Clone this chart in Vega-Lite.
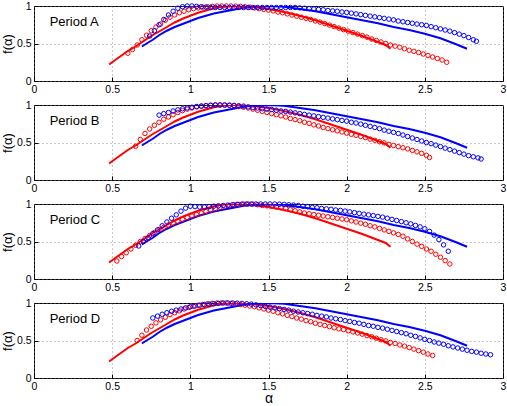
{
"$schema":"https://vega.github.io/schema/vega-lite/v6.json",
"background":"white",
"padding":{"left":0,"top":0,"right":0,"bottom":0},
"spacing":24,
"bounds":"flush",
"config":{
"font":"Liberation Sans",
"view":{"stroke":"#000000","strokeWidth":1},
"axis":{"grid":true,"gridDash":[1,3],"gridColor":"#777777","gridWidth":0.8,"gridOpacity":1,"domain":false,"ticks":true,"tickSize":-4,"tickColor":"#000000","tickWidth":1,"format":"~g","labelOverlap":false,"labelFont":"Liberation Sans","labelFontSize":10.5,"labelColor":"#000000","labelFlush":false,"labelPadding":7,"titleFont":"Liberation Sans","titleFontSize":13,"titleFontWeight":"normal","titleColor":"#000000","titlePadding":2}
},
"datasets":{
"lines":[
{"s":"r","x":0.48,"y":0.22},{"s":"r","x":0.52,"y":0.28},{"s":"r","x":0.56,"y":0.34},{"s":"r","x":0.60,"y":0.40},{"s":"r","x":0.65,"y":0.46},{"s":"r","x":0.70,"y":0.53},{"s":"r","x":0.75,"y":0.60},{"s":"r","x":0.80,"y":0.66},{"s":"r","x":0.85,"y":0.72},{"s":"r","x":0.90,"y":0.78},{"s":"r","x":0.95,"y":0.83},{"s":"r","x":1.00,"y":0.87},{"s":"r","x":1.05,"y":0.91},{"s":"r","x":1.10,"y":0.94},{"s":"r","x":1.15,"y":0.97},{"s":"r","x":1.20,"y":0.99},{"s":"r","x":1.25,"y":1.0},{"s":"r","x":1.30,"y":1.0},{"s":"r","x":1.40,"y":0.99},{"s":"r","x":1.50,"y":0.96},{"s":"r","x":1.60,"y":0.92},{"s":"r","x":1.70,"y":0.87},{"s":"r","x":1.80,"y":0.81},{"s":"r","x":1.90,"y":0.74},{"s":"r","x":2.00,"y":0.67},{"s":"r","x":2.10,"y":0.60},{"s":"r","x":2.20,"y":0.52},{"s":"r","x":2.25,"y":0.48},{"s":"r","x":2.28,"y":0.43},
{"s":"b","x":0.69,"y":0.46},{"s":"b","x":0.72,"y":0.50},{"s":"b","x":0.76,"y":0.55},{"s":"b","x":0.80,"y":0.61},{"s":"b","x":0.85,"y":0.67},{"s":"b","x":0.90,"y":0.72},{"s":"b","x":0.95,"y":0.76},{"s":"b","x":1.00,"y":0.80},{"s":"b","x":1.05,"y":0.84},{"s":"b","x":1.10,"y":0.87},{"s":"b","x":1.15,"y":0.90},{"s":"b","x":1.20,"y":0.92},{"s":"b","x":1.25,"y":0.94},{"s":"b","x":1.30,"y":0.96},{"s":"b","x":1.35,"y":0.98},{"s":"b","x":1.40,"y":0.99},{"s":"b","x":1.50,"y":1.0},{"s":"b","x":1.60,"y":0.99},{"s":"b","x":1.70,"y":0.96},{"s":"b","x":1.80,"y":0.93},{"s":"b","x":1.90,"y":0.89},{"s":"b","x":2.00,"y":0.85},{"s":"b","x":2.10,"y":0.81},{"s":"b","x":2.20,"y":0.77},{"s":"b","x":2.30,"y":0.72},{"s":"b","x":2.40,"y":0.68},{"s":"b","x":2.50,"y":0.63},{"s":"b","x":2.60,"y":0.57},{"s":"b","x":2.70,"y":0.49},{"s":"b","x":2.77,"y":0.43}
],
"circles":[
{"p":"A","s":"r","x":0.60,"y":0.37},{"p":"A","s":"r","x":0.63,"y":0.42},{"p":"A","s":"r","x":0.66,"y":0.48},{"p":"A","s":"r","x":0.69,"y":0.55},{"p":"A","s":"r","x":0.72,"y":0.61},{"p":"A","s":"r","x":0.75,"y":0.67},{"p":"A","s":"r","x":0.78,"y":0.72},{"p":"A","s":"r","x":0.81,"y":0.76},{"p":"A","s":"r","x":0.84,"y":0.81},{"p":"A","s":"r","x":0.87,"y":0.85},{"p":"A","s":"r","x":0.90,"y":0.88},{"p":"A","s":"r","x":0.93,"y":0.91},{"p":"A","s":"r","x":0.96,"y":0.93},{"p":"A","s":"r","x":0.99,"y":0.95},{"p":"A","s":"r","x":1.02,"y":0.965},{"p":"A","s":"r","x":1.05,"y":0.975},{"p":"A","s":"r","x":1.08,"y":0.985},{"p":"A","s":"r","x":1.11,"y":0.99},{"p":"A","s":"r","x":1.14,"y":0.995},{"p":"A","s":"r","x":1.17,"y":1.0},{"p":"A","s":"r","x":1.20,"y":1.0},{"p":"A","s":"r","x":1.23,"y":1.0},{"p":"A","s":"r","x":1.26,"y":1.0},{"p":"A","s":"r","x":1.29,"y":0.998},{"p":"A","s":"r","x":1.32,"y":0.995},{"p":"A","s":"r","x":1.35,"y":0.99},{"p":"A","s":"r","x":1.38,"y":0.985},{"p":"A","s":"r","x":1.41,"y":0.975},{"p":"A","s":"r","x":1.44,"y":0.965},{"p":"A","s":"r","x":1.47,"y":0.955},{"p":"A","s":"r","x":1.50,"y":0.945},{"p":"A","s":"r","x":1.53,"y":0.935},{"p":"A","s":"r","x":1.56,"y":0.92},{"p":"A","s":"r","x":1.59,"y":0.91},{"p":"A","s":"r","x":1.62,"y":0.895},{"p":"A","s":"r","x":1.65,"y":0.88},{"p":"A","s":"r","x":1.68,"y":0.865},{"p":"A","s":"r","x":1.71,"y":0.85},{"p":"A","s":"r","x":1.74,"y":0.835},{"p":"A","s":"r","x":1.77,"y":0.82},{"p":"A","s":"r","x":1.80,"y":0.80},{"p":"A","s":"r","x":1.83,"y":0.785},{"p":"A","s":"r","x":1.86,"y":0.765},{"p":"A","s":"r","x":1.89,"y":0.745},{"p":"A","s":"r","x":1.92,"y":0.725},{"p":"A","s":"r","x":1.95,"y":0.705},{"p":"A","s":"r","x":1.98,"y":0.685},{"p":"A","s":"r","x":2.01,"y":0.665},{"p":"A","s":"r","x":2.04,"y":0.645},{"p":"A","s":"r","x":2.07,"y":0.625},{"p":"A","s":"r","x":2.10,"y":0.605},{"p":"A","s":"r","x":2.13,"y":0.585},{"p":"A","s":"r","x":2.16,"y":0.56},{"p":"A","s":"r","x":2.19,"y":0.54},{"p":"A","s":"r","x":2.22,"y":0.52},{"p":"A","s":"r","x":2.25,"y":0.50},{"p":"A","s":"r","x":2.28,"y":0.48},{"p":"A","s":"r","x":2.31,"y":0.465},{"p":"A","s":"r","x":2.34,"y":0.45},{"p":"A","s":"r","x":2.37,"y":0.43},{"p":"A","s":"r","x":2.40,"y":0.41},{"p":"A","s":"r","x":2.43,"y":0.395},{"p":"A","s":"r","x":2.46,"y":0.38},{"p":"A","s":"r","x":2.49,"y":0.36},{"p":"A","s":"r","x":2.52,"y":0.34},{"p":"A","s":"r","x":2.55,"y":0.32},{"p":"A","s":"r","x":2.58,"y":0.30},{"p":"A","s":"r","x":2.61,"y":0.28},{"p":"A","s":"r","x":2.64,"y":0.25},
{"p":"A","s":"b","x":0.74,"y":0.60},{"p":"A","s":"b","x":0.77,"y":0.67},{"p":"A","s":"b","x":0.80,"y":0.75},{"p":"A","s":"b","x":0.83,"y":0.82},{"p":"A","s":"b","x":0.86,"y":0.88},{"p":"A","s":"b","x":0.89,"y":0.93},{"p":"A","s":"b","x":0.92,"y":0.97},{"p":"A","s":"b","x":0.95,"y":0.99},{"p":"A","s":"b","x":0.98,"y":1.0},{"p":"A","s":"b","x":1.01,"y":1.0},{"p":"A","s":"b","x":1.04,"y":0.995},{"p":"A","s":"b","x":1.07,"y":0.99},{"p":"A","s":"b","x":1.10,"y":0.985},{"p":"A","s":"b","x":1.13,"y":0.98},{"p":"A","s":"b","x":1.16,"y":0.98},{"p":"A","s":"b","x":1.19,"y":0.98},{"p":"A","s":"b","x":1.22,"y":0.98},{"p":"A","s":"b","x":1.25,"y":0.98},{"p":"A","s":"b","x":1.28,"y":0.98},{"p":"A","s":"b","x":1.31,"y":0.98},{"p":"A","s":"b","x":1.34,"y":0.98},{"p":"A","s":"b","x":1.37,"y":0.98},{"p":"A","s":"b","x":1.40,"y":0.98},{"p":"A","s":"b","x":1.43,"y":0.98},{"p":"A","s":"b","x":1.46,"y":0.98},{"p":"A","s":"b","x":1.49,"y":0.98},{"p":"A","s":"b","x":1.52,"y":0.98},{"p":"A","s":"b","x":1.55,"y":0.98},{"p":"A","s":"b","x":1.58,"y":0.98},{"p":"A","s":"b","x":1.61,"y":0.98},{"p":"A","s":"b","x":1.64,"y":0.98},{"p":"A","s":"b","x":1.67,"y":0.98},{"p":"A","s":"b","x":1.70,"y":0.975},{"p":"A","s":"b","x":1.73,"y":0.97},{"p":"A","s":"b","x":1.76,"y":0.965},{"p":"A","s":"b","x":1.79,"y":0.96},{"p":"A","s":"b","x":1.82,"y":0.955},{"p":"A","s":"b","x":1.85,"y":0.95},{"p":"A","s":"b","x":1.88,"y":0.94},{"p":"A","s":"b","x":1.91,"y":0.935},{"p":"A","s":"b","x":1.94,"y":0.93},{"p":"A","s":"b","x":1.97,"y":0.92},{"p":"A","s":"b","x":2.00,"y":0.915},{"p":"A","s":"b","x":2.03,"y":0.905},{"p":"A","s":"b","x":2.06,"y":0.895},{"p":"A","s":"b","x":2.09,"y":0.885},{"p":"A","s":"b","x":2.12,"y":0.875},{"p":"A","s":"b","x":2.15,"y":0.865},{"p":"A","s":"b","x":2.18,"y":0.855},{"p":"A","s":"b","x":2.21,"y":0.845},{"p":"A","s":"b","x":2.24,"y":0.835},{"p":"A","s":"b","x":2.27,"y":0.825},{"p":"A","s":"b","x":2.30,"y":0.815},{"p":"A","s":"b","x":2.33,"y":0.80},{"p":"A","s":"b","x":2.36,"y":0.79},{"p":"A","s":"b","x":2.39,"y":0.78},{"p":"A","s":"b","x":2.42,"y":0.77},{"p":"A","s":"b","x":2.45,"y":0.76},{"p":"A","s":"b","x":2.48,"y":0.75},{"p":"A","s":"b","x":2.51,"y":0.74},{"p":"A","s":"b","x":2.54,"y":0.725},{"p":"A","s":"b","x":2.57,"y":0.71},{"p":"A","s":"b","x":2.60,"y":0.695},{"p":"A","s":"b","x":2.63,"y":0.68},{"p":"A","s":"b","x":2.66,"y":0.665},{"p":"A","s":"b","x":2.69,"y":0.645},{"p":"A","s":"b","x":2.72,"y":0.625},{"p":"A","s":"b","x":2.75,"y":0.605},{"p":"A","s":"b","x":2.78,"y":0.58},{"p":"A","s":"b","x":2.81,"y":0.55},{"p":"A","s":"b","x":2.83,"y":0.53},
{"p":"B","s":"r","x":0.65,"y":0.45},{"p":"B","s":"r","x":0.68,"y":0.54},{"p":"B","s":"r","x":0.71,"y":0.62},{"p":"B","s":"r","x":0.74,"y":0.68},{"p":"B","s":"r","x":0.77,"y":0.73},{"p":"B","s":"r","x":0.80,"y":0.77},{"p":"B","s":"r","x":0.83,"y":0.81},{"p":"B","s":"r","x":0.86,"y":0.84},{"p":"B","s":"r","x":0.89,"y":0.87},{"p":"B","s":"r","x":0.92,"y":0.90},{"p":"B","s":"r","x":0.95,"y":0.925},{"p":"B","s":"r","x":0.98,"y":0.945},{"p":"B","s":"r","x":1.01,"y":0.96},{"p":"B","s":"r","x":1.04,"y":0.975},{"p":"B","s":"r","x":1.07,"y":0.985},{"p":"B","s":"r","x":1.10,"y":0.993},{"p":"B","s":"r","x":1.13,"y":0.998},{"p":"B","s":"r","x":1.16,"y":1.0},{"p":"B","s":"r","x":1.19,"y":1.0},{"p":"B","s":"r","x":1.22,"y":0.998},{"p":"B","s":"r","x":1.25,"y":0.995},{"p":"B","s":"r","x":1.28,"y":0.99},{"p":"B","s":"r","x":1.31,"y":0.98},{"p":"B","s":"r","x":1.34,"y":0.97},{"p":"B","s":"r","x":1.37,"y":0.96},{"p":"B","s":"r","x":1.40,"y":0.945},{"p":"B","s":"r","x":1.43,"y":0.93},{"p":"B","s":"r","x":1.46,"y":0.915},{"p":"B","s":"r","x":1.49,"y":0.90},{"p":"B","s":"r","x":1.52,"y":0.885},{"p":"B","s":"r","x":1.55,"y":0.87},{"p":"B","s":"r","x":1.58,"y":0.855},{"p":"B","s":"r","x":1.61,"y":0.84},{"p":"B","s":"r","x":1.64,"y":0.82},{"p":"B","s":"r","x":1.67,"y":0.805},{"p":"B","s":"r","x":1.70,"y":0.79},{"p":"B","s":"r","x":1.73,"y":0.77},{"p":"B","s":"r","x":1.76,"y":0.755},{"p":"B","s":"r","x":1.79,"y":0.735},{"p":"B","s":"r","x":1.82,"y":0.72},{"p":"B","s":"r","x":1.85,"y":0.70},{"p":"B","s":"r","x":1.88,"y":0.685},{"p":"B","s":"r","x":1.91,"y":0.67},{"p":"B","s":"r","x":1.94,"y":0.655},{"p":"B","s":"r","x":1.97,"y":0.64},{"p":"B","s":"r","x":2.00,"y":0.625},{"p":"B","s":"r","x":2.03,"y":0.61},{"p":"B","s":"r","x":2.06,"y":0.595},{"p":"B","s":"r","x":2.09,"y":0.58},{"p":"B","s":"r","x":2.12,"y":0.565},{"p":"B","s":"r","x":2.15,"y":0.545},{"p":"B","s":"r","x":2.18,"y":0.53},{"p":"B","s":"r","x":2.21,"y":0.51},{"p":"B","s":"r","x":2.24,"y":0.495},{"p":"B","s":"r","x":2.27,"y":0.475},{"p":"B","s":"r","x":2.30,"y":0.46},{"p":"B","s":"r","x":2.33,"y":0.445},{"p":"B","s":"r","x":2.36,"y":0.43},{"p":"B","s":"r","x":2.39,"y":0.415},{"p":"B","s":"r","x":2.42,"y":0.395},{"p":"B","s":"r","x":2.45,"y":0.375},{"p":"B","s":"r","x":2.48,"y":0.355},{"p":"B","s":"r","x":2.51,"y":0.33},{"p":"B","s":"r","x":2.53,"y":0.30},
{"p":"B","s":"b","x":0.80,"y":0.865},{"p":"B","s":"b","x":0.83,"y":0.885},{"p":"B","s":"b","x":0.86,"y":0.90},{"p":"B","s":"b","x":0.89,"y":0.92},{"p":"B","s":"b","x":0.92,"y":0.935},{"p":"B","s":"b","x":0.95,"y":0.95},{"p":"B","s":"b","x":0.98,"y":0.96},{"p":"B","s":"b","x":1.01,"y":0.97},{"p":"B","s":"b","x":1.04,"y":0.98},{"p":"B","s":"b","x":1.07,"y":0.985},{"p":"B","s":"b","x":1.10,"y":0.99},{"p":"B","s":"b","x":1.13,"y":0.995},{"p":"B","s":"b","x":1.16,"y":1.0},{"p":"B","s":"b","x":1.19,"y":1.0},{"p":"B","s":"b","x":1.22,"y":1.0},{"p":"B","s":"b","x":1.25,"y":0.998},{"p":"B","s":"b","x":1.28,"y":0.995},{"p":"B","s":"b","x":1.31,"y":0.99},{"p":"B","s":"b","x":1.34,"y":0.985},{"p":"B","s":"b","x":1.37,"y":0.975},{"p":"B","s":"b","x":1.40,"y":0.965},{"p":"B","s":"b","x":1.43,"y":0.96},{"p":"B","s":"b","x":1.46,"y":0.95},{"p":"B","s":"b","x":1.49,"y":0.945},{"p":"B","s":"b","x":1.52,"y":0.94},{"p":"B","s":"b","x":1.55,"y":0.93},{"p":"B","s":"b","x":1.58,"y":0.92},{"p":"B","s":"b","x":1.61,"y":0.915},{"p":"B","s":"b","x":1.64,"y":0.905},{"p":"B","s":"b","x":1.67,"y":0.895},{"p":"B","s":"b","x":1.70,"y":0.885},{"p":"B","s":"b","x":1.73,"y":0.875},{"p":"B","s":"b","x":1.76,"y":0.865},{"p":"B","s":"b","x":1.79,"y":0.855},{"p":"B","s":"b","x":1.82,"y":0.845},{"p":"B","s":"b","x":1.85,"y":0.835},{"p":"B","s":"b","x":1.88,"y":0.825},{"p":"B","s":"b","x":1.91,"y":0.815},{"p":"B","s":"b","x":1.94,"y":0.805},{"p":"B","s":"b","x":1.97,"y":0.795},{"p":"B","s":"b","x":2.00,"y":0.785},{"p":"B","s":"b","x":2.03,"y":0.77},{"p":"B","s":"b","x":2.06,"y":0.76},{"p":"B","s":"b","x":2.09,"y":0.745},{"p":"B","s":"b","x":2.12,"y":0.73},{"p":"B","s":"b","x":2.15,"y":0.715},{"p":"B","s":"b","x":2.18,"y":0.70},{"p":"B","s":"b","x":2.21,"y":0.685},{"p":"B","s":"b","x":2.24,"y":0.665},{"p":"B","s":"b","x":2.27,"y":0.65},{"p":"B","s":"b","x":2.30,"y":0.635},{"p":"B","s":"b","x":2.33,"y":0.62},{"p":"B","s":"b","x":2.36,"y":0.60},{"p":"B","s":"b","x":2.39,"y":0.58},{"p":"B","s":"b","x":2.42,"y":0.56},{"p":"B","s":"b","x":2.45,"y":0.54},{"p":"B","s":"b","x":2.48,"y":0.52},{"p":"B","s":"b","x":2.51,"y":0.50},{"p":"B","s":"b","x":2.54,"y":0.485},{"p":"B","s":"b","x":2.57,"y":0.465},{"p":"B","s":"b","x":2.60,"y":0.445},{"p":"B","s":"b","x":2.63,"y":0.425},{"p":"B","s":"b","x":2.66,"y":0.405},{"p":"B","s":"b","x":2.69,"y":0.385},{"p":"B","s":"b","x":2.72,"y":0.365},{"p":"B","s":"b","x":2.75,"y":0.345},{"p":"B","s":"b","x":2.78,"y":0.325},{"p":"B","s":"b","x":2.81,"y":0.31},{"p":"B","s":"b","x":2.84,"y":0.295},{"p":"B","s":"b","x":2.86,"y":0.28},
{"p":"C","s":"r","x":0.53,"y":0.24},{"p":"C","s":"r","x":0.56,"y":0.30},{"p":"C","s":"r","x":0.59,"y":0.35},{"p":"C","s":"r","x":0.62,"y":0.40},{"p":"C","s":"r","x":0.65,"y":0.45},{"p":"C","s":"r","x":0.68,"y":0.50},{"p":"C","s":"r","x":0.71,"y":0.54},{"p":"C","s":"r","x":0.74,"y":0.58},{"p":"C","s":"r","x":0.77,"y":0.62},{"p":"C","s":"r","x":0.80,"y":0.66},{"p":"C","s":"r","x":0.83,"y":0.69},{"p":"C","s":"r","x":0.86,"y":0.72},{"p":"C","s":"r","x":0.89,"y":0.745},{"p":"C","s":"r","x":0.92,"y":0.77},{"p":"C","s":"r","x":0.95,"y":0.795},{"p":"C","s":"r","x":0.98,"y":0.82},{"p":"C","s":"r","x":1.01,"y":0.84},{"p":"C","s":"r","x":1.04,"y":0.86},{"p":"C","s":"r","x":1.07,"y":0.88},{"p":"C","s":"r","x":1.10,"y":0.90},{"p":"C","s":"r","x":1.13,"y":0.92},{"p":"C","s":"r","x":1.16,"y":0.94},{"p":"C","s":"r","x":1.19,"y":0.955},{"p":"C","s":"r","x":1.22,"y":0.97},{"p":"C","s":"r","x":1.25,"y":0.98},{"p":"C","s":"r","x":1.28,"y":0.99},{"p":"C","s":"r","x":1.31,"y":0.995},{"p":"C","s":"r","x":1.34,"y":1.0},{"p":"C","s":"r","x":1.37,"y":1.0},{"p":"C","s":"r","x":1.40,"y":0.998},{"p":"C","s":"r","x":1.43,"y":0.99},{"p":"C","s":"r","x":1.46,"y":0.98},{"p":"C","s":"r","x":1.49,"y":0.975},{"p":"C","s":"r","x":1.52,"y":0.97},{"p":"C","s":"r","x":1.55,"y":0.96},{"p":"C","s":"r","x":1.58,"y":0.95},{"p":"C","s":"r","x":1.61,"y":0.94},{"p":"C","s":"r","x":1.64,"y":0.925},{"p":"C","s":"r","x":1.67,"y":0.91},{"p":"C","s":"r","x":1.70,"y":0.895},{"p":"C","s":"r","x":1.73,"y":0.88},{"p":"C","s":"r","x":1.76,"y":0.87},{"p":"C","s":"r","x":1.79,"y":0.86},{"p":"C","s":"r","x":1.82,"y":0.85},{"p":"C","s":"r","x":1.85,"y":0.84},{"p":"C","s":"r","x":1.88,"y":0.83},{"p":"C","s":"r","x":1.91,"y":0.82},{"p":"C","s":"r","x":1.94,"y":0.81},{"p":"C","s":"r","x":1.97,"y":0.80},{"p":"C","s":"r","x":2.00,"y":0.79},{"p":"C","s":"r","x":2.03,"y":0.775},{"p":"C","s":"r","x":2.06,"y":0.76},{"p":"C","s":"r","x":2.09,"y":0.745},{"p":"C","s":"r","x":2.12,"y":0.73},{"p":"C","s":"r","x":2.15,"y":0.71},{"p":"C","s":"r","x":2.18,"y":0.695},{"p":"C","s":"r","x":2.21,"y":0.675},{"p":"C","s":"r","x":2.24,"y":0.655},{"p":"C","s":"r","x":2.27,"y":0.635},{"p":"C","s":"r","x":2.30,"y":0.615},{"p":"C","s":"r","x":2.33,"y":0.595},{"p":"C","s":"r","x":2.36,"y":0.57},{"p":"C","s":"r","x":2.39,"y":0.535},{"p":"C","s":"r","x":2.42,"y":0.50},{"p":"C","s":"r","x":2.45,"y":0.465},{"p":"C","s":"r","x":2.48,"y":0.435},{"p":"C","s":"r","x":2.51,"y":0.40},{"p":"C","s":"r","x":2.54,"y":0.37},{"p":"C","s":"r","x":2.57,"y":0.33},{"p":"C","s":"r","x":2.60,"y":0.29},{"p":"C","s":"r","x":2.63,"y":0.245},{"p":"C","s":"r","x":2.66,"y":0.20},
{"p":"C","s":"b","x":0.67,"y":0.44},{"p":"C","s":"b","x":0.70,"y":0.50},{"p":"C","s":"b","x":0.73,"y":0.55},{"p":"C","s":"b","x":0.76,"y":0.605},{"p":"C","s":"b","x":0.79,"y":0.655},{"p":"C","s":"b","x":0.82,"y":0.71},{"p":"C","s":"b","x":0.85,"y":0.76},{"p":"C","s":"b","x":0.88,"y":0.81},{"p":"C","s":"b","x":0.91,"y":0.855},{"p":"C","s":"b","x":0.94,"y":0.905},{"p":"C","s":"b","x":0.97,"y":0.945},{"p":"C","s":"b","x":1.00,"y":0.97},{"p":"C","s":"b","x":1.03,"y":0.965},{"p":"C","s":"b","x":1.06,"y":0.96},{"p":"C","s":"b","x":1.09,"y":0.96},{"p":"C","s":"b","x":1.12,"y":0.965},{"p":"C","s":"b","x":1.15,"y":0.97},{"p":"C","s":"b","x":1.18,"y":0.975},{"p":"C","s":"b","x":1.21,"y":0.98},{"p":"C","s":"b","x":1.24,"y":0.985},{"p":"C","s":"b","x":1.27,"y":0.99},{"p":"C","s":"b","x":1.30,"y":0.995},{"p":"C","s":"b","x":1.33,"y":0.998},{"p":"C","s":"b","x":1.36,"y":1.0},{"p":"C","s":"b","x":1.39,"y":1.0},{"p":"C","s":"b","x":1.42,"y":1.0},{"p":"C","s":"b","x":1.45,"y":1.0},{"p":"C","s":"b","x":1.48,"y":1.0},{"p":"C","s":"b","x":1.51,"y":1.0},{"p":"C","s":"b","x":1.54,"y":1.0},{"p":"C","s":"b","x":1.57,"y":0.998},{"p":"C","s":"b","x":1.60,"y":0.995},{"p":"C","s":"b","x":1.63,"y":0.99},{"p":"C","s":"b","x":1.66,"y":0.985},{"p":"C","s":"b","x":1.69,"y":0.98},{"p":"C","s":"b","x":1.72,"y":0.97},{"p":"C","s":"b","x":1.75,"y":0.965},{"p":"C","s":"b","x":1.78,"y":0.955},{"p":"C","s":"b","x":1.81,"y":0.95},{"p":"C","s":"b","x":1.84,"y":0.94},{"p":"C","s":"b","x":1.87,"y":0.935},{"p":"C","s":"b","x":1.90,"y":0.93},{"p":"C","s":"b","x":1.93,"y":0.92},{"p":"C","s":"b","x":1.96,"y":0.915},{"p":"C","s":"b","x":1.99,"y":0.905},{"p":"C","s":"b","x":2.02,"y":0.895},{"p":"C","s":"b","x":2.05,"y":0.885},{"p":"C","s":"b","x":2.08,"y":0.875},{"p":"C","s":"b","x":2.11,"y":0.865},{"p":"C","s":"b","x":2.14,"y":0.855},{"p":"C","s":"b","x":2.17,"y":0.845},{"p":"C","s":"b","x":2.20,"y":0.835},{"p":"C","s":"b","x":2.23,"y":0.825},{"p":"C","s":"b","x":2.26,"y":0.81},{"p":"C","s":"b","x":2.29,"y":0.795},{"p":"C","s":"b","x":2.32,"y":0.78},{"p":"C","s":"b","x":2.35,"y":0.765},{"p":"C","s":"b","x":2.38,"y":0.75},{"p":"C","s":"b","x":2.41,"y":0.735},{"p":"C","s":"b","x":2.44,"y":0.715},{"p":"C","s":"b","x":2.47,"y":0.695},{"p":"C","s":"b","x":2.50,"y":0.67},{"p":"C","s":"b","x":2.53,"y":0.635},{"p":"C","s":"b","x":2.56,"y":0.585},{"p":"C","s":"b","x":2.59,"y":0.525},{"p":"C","s":"b","x":2.62,"y":0.455},{"p":"C","s":"b","x":2.65,"y":0.37},
{"p":"D","s":"r","x":0.66,"y":0.50},{"p":"D","s":"r","x":0.69,"y":0.57},{"p":"D","s":"r","x":0.72,"y":0.64},{"p":"D","s":"r","x":0.75,"y":0.69},{"p":"D","s":"r","x":0.78,"y":0.735},{"p":"D","s":"r","x":0.81,"y":0.775},{"p":"D","s":"r","x":0.84,"y":0.81},{"p":"D","s":"r","x":0.87,"y":0.845},{"p":"D","s":"r","x":0.90,"y":0.87},{"p":"D","s":"r","x":0.93,"y":0.895},{"p":"D","s":"r","x":0.96,"y":0.92},{"p":"D","s":"r","x":0.99,"y":0.94},{"p":"D","s":"r","x":1.02,"y":0.955},{"p":"D","s":"r","x":1.05,"y":0.97},{"p":"D","s":"r","x":1.08,"y":0.98},{"p":"D","s":"r","x":1.11,"y":0.99},{"p":"D","s":"r","x":1.14,"y":0.995},{"p":"D","s":"r","x":1.17,"y":1.0},{"p":"D","s":"r","x":1.20,"y":1.0},{"p":"D","s":"r","x":1.23,"y":1.0},{"p":"D","s":"r","x":1.26,"y":0.995},{"p":"D","s":"r","x":1.29,"y":0.99},{"p":"D","s":"r","x":1.32,"y":0.98},{"p":"D","s":"r","x":1.35,"y":0.97},{"p":"D","s":"r","x":1.38,"y":0.96},{"p":"D","s":"r","x":1.41,"y":0.95},{"p":"D","s":"r","x":1.44,"y":0.935},{"p":"D","s":"r","x":1.47,"y":0.92},{"p":"D","s":"r","x":1.50,"y":0.905},{"p":"D","s":"r","x":1.53,"y":0.89},{"p":"D","s":"r","x":1.56,"y":0.87},{"p":"D","s":"r","x":1.59,"y":0.855},{"p":"D","s":"r","x":1.62,"y":0.835},{"p":"D","s":"r","x":1.65,"y":0.82},{"p":"D","s":"r","x":1.68,"y":0.80},{"p":"D","s":"r","x":1.71,"y":0.785},{"p":"D","s":"r","x":1.74,"y":0.765},{"p":"D","s":"r","x":1.77,"y":0.75},{"p":"D","s":"r","x":1.80,"y":0.73},{"p":"D","s":"r","x":1.83,"y":0.715},{"p":"D","s":"r","x":1.86,"y":0.70},{"p":"D","s":"r","x":1.89,"y":0.685},{"p":"D","s":"r","x":1.92,"y":0.67},{"p":"D","s":"r","x":1.95,"y":0.655},{"p":"D","s":"r","x":1.98,"y":0.645},{"p":"D","s":"r","x":2.01,"y":0.63},{"p":"D","s":"r","x":2.04,"y":0.615},{"p":"D","s":"r","x":2.07,"y":0.60},{"p":"D","s":"r","x":2.10,"y":0.585},{"p":"D","s":"r","x":2.13,"y":0.565},{"p":"D","s":"r","x":2.16,"y":0.55},{"p":"D","s":"r","x":2.19,"y":0.53},{"p":"D","s":"r","x":2.22,"y":0.51},{"p":"D","s":"r","x":2.25,"y":0.495},{"p":"D","s":"r","x":2.28,"y":0.475},{"p":"D","s":"r","x":2.31,"y":0.46},{"p":"D","s":"r","x":2.34,"y":0.44},{"p":"D","s":"r","x":2.37,"y":0.425},{"p":"D","s":"r","x":2.40,"y":0.405},{"p":"D","s":"r","x":2.43,"y":0.385},{"p":"D","s":"r","x":2.46,"y":0.365},{"p":"D","s":"r","x":2.49,"y":0.345},{"p":"D","s":"r","x":2.52,"y":0.32},{"p":"D","s":"r","x":2.55,"y":0.30},
{"p":"D","s":"b","x":0.76,"y":0.80},{"p":"D","s":"b","x":0.79,"y":0.825},{"p":"D","s":"b","x":0.82,"y":0.85},{"p":"D","s":"b","x":0.85,"y":0.87},{"p":"D","s":"b","x":0.88,"y":0.89},{"p":"D","s":"b","x":0.91,"y":0.905},{"p":"D","s":"b","x":0.94,"y":0.92},{"p":"D","s":"b","x":0.97,"y":0.935},{"p":"D","s":"b","x":1.00,"y":0.95},{"p":"D","s":"b","x":1.03,"y":0.96},{"p":"D","s":"b","x":1.06,"y":0.97},{"p":"D","s":"b","x":1.09,"y":0.98},{"p":"D","s":"b","x":1.12,"y":0.985},{"p":"D","s":"b","x":1.15,"y":0.99},{"p":"D","s":"b","x":1.18,"y":0.995},{"p":"D","s":"b","x":1.21,"y":1.0},{"p":"D","s":"b","x":1.24,"y":1.0},{"p":"D","s":"b","x":1.27,"y":1.0},{"p":"D","s":"b","x":1.30,"y":0.998},{"p":"D","s":"b","x":1.33,"y":0.995},{"p":"D","s":"b","x":1.36,"y":0.99},{"p":"D","s":"b","x":1.39,"y":0.985},{"p":"D","s":"b","x":1.42,"y":0.975},{"p":"D","s":"b","x":1.45,"y":0.965},{"p":"D","s":"b","x":1.48,"y":0.955},{"p":"D","s":"b","x":1.51,"y":0.945},{"p":"D","s":"b","x":1.54,"y":0.935},{"p":"D","s":"b","x":1.57,"y":0.925},{"p":"D","s":"b","x":1.60,"y":0.915},{"p":"D","s":"b","x":1.63,"y":0.905},{"p":"D","s":"b","x":1.66,"y":0.89},{"p":"D","s":"b","x":1.69,"y":0.88},{"p":"D","s":"b","x":1.72,"y":0.87},{"p":"D","s":"b","x":1.75,"y":0.86},{"p":"D","s":"b","x":1.78,"y":0.85},{"p":"D","s":"b","x":1.81,"y":0.835},{"p":"D","s":"b","x":1.84,"y":0.825},{"p":"D","s":"b","x":1.87,"y":0.815},{"p":"D","s":"b","x":1.90,"y":0.80},{"p":"D","s":"b","x":1.93,"y":0.79},{"p":"D","s":"b","x":1.96,"y":0.78},{"p":"D","s":"b","x":1.99,"y":0.765},{"p":"D","s":"b","x":2.02,"y":0.755},{"p":"D","s":"b","x":2.05,"y":0.74},{"p":"D","s":"b","x":2.08,"y":0.73},{"p":"D","s":"b","x":2.11,"y":0.715},{"p":"D","s":"b","x":2.14,"y":0.70},{"p":"D","s":"b","x":2.17,"y":0.69},{"p":"D","s":"b","x":2.20,"y":0.675},{"p":"D","s":"b","x":2.23,"y":0.665},{"p":"D","s":"b","x":2.26,"y":0.65},{"p":"D","s":"b","x":2.29,"y":0.635},{"p":"D","s":"b","x":2.32,"y":0.62},{"p":"D","s":"b","x":2.35,"y":0.605},{"p":"D","s":"b","x":2.38,"y":0.59},{"p":"D","s":"b","x":2.41,"y":0.57},{"p":"D","s":"b","x":2.44,"y":0.555},{"p":"D","s":"b","x":2.47,"y":0.535},{"p":"D","s":"b","x":2.50,"y":0.515},{"p":"D","s":"b","x":2.53,"y":0.50},{"p":"D","s":"b","x":2.56,"y":0.48},{"p":"D","s":"b","x":2.59,"y":0.465},{"p":"D","s":"b","x":2.62,"y":0.45},{"p":"D","s":"b","x":2.65,"y":0.43},{"p":"D","s":"b","x":2.68,"y":0.415},{"p":"D","s":"b","x":2.71,"y":0.40},{"p":"D","s":"b","x":2.74,"y":0.385},{"p":"D","s":"b","x":2.77,"y":0.37},{"p":"D","s":"b","x":2.80,"y":0.355},{"p":"D","s":"b","x":2.83,"y":0.345},{"p":"D","s":"b","x":2.86,"y":0.33},{"p":"D","s":"b","x":2.89,"y":0.32},{"p":"D","s":"b","x":2.92,"y":0.31}
]
},
"vconcat":[
{"width":469,"height":75,
"encoding":{"x":{"type":"quantitative","scale":{"domain":[0,3],"nice":false},"axis":{"title":null,"values":[0,0.5,1,1.5,2,2.5,3]}},"y":{"type":"quantitative","scale":{"domain":[0,1],"nice":false},"axis":{"title":"f(α)","values":[0,0.5,1],"tickCount":3}}},
"layer":[
{"data":{"name":"lines"},"mark":{"type":"line","strokeWidth":2,"clip":true},"encoding":{"x":{"field":"x","type":"quantitative"},"y":{"field":"y","type":"quantitative"},"color":{"field":"s","type":"nominal","scale":{"domain":["r","b"],"range":["#ff0000","#0000ff"]},"legend":null}}},
{"data":{"name":"circles"},"transform":[{"filter":"datum.p == 'A'"}],"mark":{"type":"point","shape":"circle","filled":false,"size":20,"strokeWidth":1,"opacity":1},"encoding":{"x":{"field":"x","type":"quantitative"},"y":{"field":"y","type":"quantitative"},"color":{"field":"s","type":"nominal","legend":null}}},
{"data":{"values":[{"label":"Period A","tx":0.1,"ty":0.79}]},"mark":{"type":"text","align":"left","baseline":"middle","fontSize":13,"font":"Liberation Sans","color":"#000000"},"encoding":{"x":{"field":"tx","type":"quantitative"},"y":{"field":"ty","type":"quantitative"},"text":{"field":"label"}}}
]},
{"width":469,"height":75,
"encoding":{"x":{"type":"quantitative","scale":{"domain":[0,3],"nice":false},"axis":{"title":null,"values":[0,0.5,1,1.5,2,2.5,3]}},"y":{"type":"quantitative","scale":{"domain":[0,1],"nice":false},"axis":{"title":"f(α)","values":[0,0.5,1],"tickCount":3}}},
"layer":[
{"data":{"name":"lines"},"mark":{"type":"line","strokeWidth":2,"clip":true},"encoding":{"x":{"field":"x","type":"quantitative"},"y":{"field":"y","type":"quantitative"},"color":{"field":"s","type":"nominal","scale":{"domain":["r","b"],"range":["#ff0000","#0000ff"]},"legend":null}}},
{"data":{"name":"circles"},"transform":[{"filter":"datum.p == 'B'"}],"mark":{"type":"point","shape":"circle","filled":false,"size":20,"strokeWidth":1,"opacity":1},"encoding":{"x":{"field":"x","type":"quantitative"},"y":{"field":"y","type":"quantitative"},"color":{"field":"s","type":"nominal","legend":null}}},
{"data":{"values":[{"label":"Period B","tx":0.1,"ty":0.79}]},"mark":{"type":"text","align":"left","baseline":"middle","fontSize":13,"font":"Liberation Sans","color":"#000000"},"encoding":{"x":{"field":"tx","type":"quantitative"},"y":{"field":"ty","type":"quantitative"},"text":{"field":"label"}}}
]},
{"width":469,"height":75,
"encoding":{"x":{"type":"quantitative","scale":{"domain":[0,3],"nice":false},"axis":{"title":null,"values":[0,0.5,1,1.5,2,2.5,3]}},"y":{"type":"quantitative","scale":{"domain":[0,1],"nice":false},"axis":{"title":"f(α)","values":[0,0.5,1],"tickCount":3}}},
"layer":[
{"data":{"name":"lines"},"mark":{"type":"line","strokeWidth":2,"clip":true},"encoding":{"x":{"field":"x","type":"quantitative"},"y":{"field":"y","type":"quantitative"},"color":{"field":"s","type":"nominal","scale":{"domain":["r","b"],"range":["#ff0000","#0000ff"]},"legend":null}}},
{"data":{"name":"circles"},"transform":[{"filter":"datum.p == 'C'"}],"mark":{"type":"point","shape":"circle","filled":false,"size":20,"strokeWidth":1,"opacity":1},"encoding":{"x":{"field":"x","type":"quantitative"},"y":{"field":"y","type":"quantitative"},"color":{"field":"s","type":"nominal","legend":null}}},
{"data":{"values":[{"label":"Period C","tx":0.1,"ty":0.79}]},"mark":{"type":"text","align":"left","baseline":"middle","fontSize":13,"font":"Liberation Sans","color":"#000000"},"encoding":{"x":{"field":"tx","type":"quantitative"},"y":{"field":"ty","type":"quantitative"},"text":{"field":"label"}}}
]},
{"width":469,"height":75,
"encoding":{"x":{"type":"quantitative","scale":{"domain":[0,3],"nice":false},"axis":{"title":"α","titleFontSize":14,"titlePadding":0,"values":[0,0.5,1,1.5,2,2.5,3]}},"y":{"type":"quantitative","scale":{"domain":[0,1],"nice":false},"axis":{"title":"f(α)","values":[0,0.5,1],"tickCount":3}}},
"layer":[
{"data":{"name":"lines"},"mark":{"type":"line","strokeWidth":2,"clip":true},"encoding":{"x":{"field":"x","type":"quantitative"},"y":{"field":"y","type":"quantitative"},"color":{"field":"s","type":"nominal","scale":{"domain":["r","b"],"range":["#ff0000","#0000ff"]},"legend":null}}},
{"data":{"name":"circles"},"transform":[{"filter":"datum.p == 'D'"}],"mark":{"type":"point","shape":"circle","filled":false,"size":20,"strokeWidth":1,"opacity":1},"encoding":{"x":{"field":"x","type":"quantitative"},"y":{"field":"y","type":"quantitative"},"color":{"field":"s","type":"nominal","legend":null}}},
{"data":{"values":[{"label":"Period D","tx":0.1,"ty":0.79}]},"mark":{"type":"text","align":"left","baseline":"middle","fontSize":13,"font":"Liberation Sans","color":"#000000"},"encoding":{"x":{"field":"tx","type":"quantitative"},"y":{"field":"ty","type":"quantitative"},"text":{"field":"label"}}}
]}
]
}
